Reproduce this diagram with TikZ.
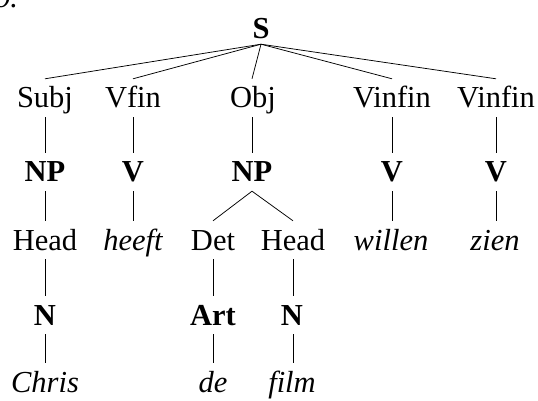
\documentclass[tikz,border=0pt]{standalone}
\usepackage{fontspec}
\setmainfont{Liberation Serif}
\begin{document}
\begin{tikzpicture}[x=1pt,y=-1pt,
  every node/.style={font=\fontsize{30.5}{36}\selectfont, text height=20pt, text depth=0pt,
    inner xsep=0pt, inner ysep=9pt, anchor=base},
  cat/.style={font=\fontsize{30.5}{36}\selectfont\bfseries},
  word/.style={font=\fontsize{30.5}{36}\selectfont\itshape},
  edge/.style={line width=0.75pt}]
\useasboundingbox (0,0) rectangle (538,401);
\clip (0,0) rectangle (538,401);
\node[word, anchor=base west, inner sep=0pt] (lbl) at (-5,8) {b.};
% row 0
\node[cat, inner ysep=5pt] (S) at (261,39) {S};
% row 1
\node (subj) at (45,108) {Subj};
\node (vfin) at (133,108) {Vfin};
\node (obj) at (253,108) {Obj};
\node (vinfa) at (392,108) {Vinfin};
\node (vinfb) at (496,108) {Vinfin};
% row 2
\node[cat] (npa) at (45,182) {NP};
\node[cat] (va) at (133,182) {V};
\node[cat] (npb) at (252,182) {NP};
\node[cat] (vb) at (392,182) {V};
\node[cat] (vc) at (496,182) {V};
% row 3
\node (heada) at (45,250) {Head};
\node[word] (heeft) at (133,250) {heeft};
\node (det) at (213,250) {Det};
\node (headb) at (293,250) {Head};
\node[word] (willen) at (391,250) {willen};
\node[word] (zien) at (495,250) {zien};
% row 4
\node[cat] (na) at (45,325) {N};
\node[cat] (art) at (213,325) {Art};
\node[cat] (nb) at (292,325) {N};
% row 5
\node[word] (chris) at (45,392) {Chris};
\node[word] (de) at (213,392) {de};
\node[word] (film) at (292,392) {film};
% edges
\foreach \t in {subj,vfin,vinfa,vinfb}
  \draw[edge] (S.south) -- (\t.north);
\draw[edge] (S.south) -- (obj.north -| npb.north);
\draw[edge] (subj.south) -- (npa.north);
\draw[edge] (vfin.south) -- (va.north);
\draw[edge] (obj.south -| npb.north) -- (npb.north);
\draw[edge] (vinfa.south) -- (vb.north);
\draw[edge] (vinfb.south) -- (vc.north);
\draw[edge] (npa.south) -- (heada.north);
\draw[edge] (va.south) -- (heeft.north);
\draw[edge] (npb.south) -- (det.north);
\draw[edge] (npb.south) -- (headb.north);
\draw[edge] (vb.south) -- (willen.north -| vb.south);
\draw[edge] (vc.south) -- (zien.north -| vc.south);
\draw[edge] (heada.south) -- (na.north);
\draw[edge] (det.south) -- (art.north);
\draw[edge] (headb.south) -- (nb.north -| headb.south);
\draw[edge] (na.south) -- (chris.north);
\draw[edge] (art.south) -- (de.north);
\draw[edge] (nb.south -| headb.south) -- (film.north -| headb.south);
\end{tikzpicture}
\end{document}
